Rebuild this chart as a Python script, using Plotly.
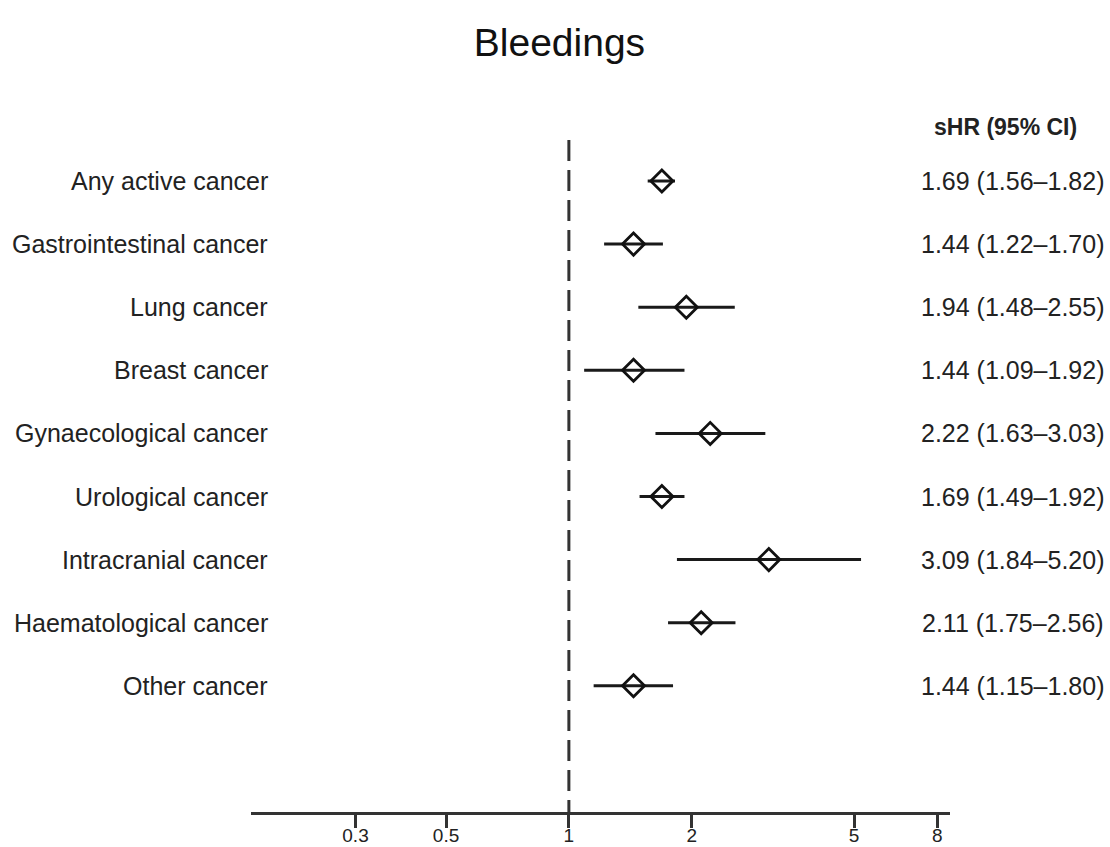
import plotly.graph_objects as go
import numpy as np

categories = ["Any active cancer", "Gastrointestinal cancer", "Lung cancer", "Breast cancer",
              "Gynaecological cancer", "Urological cancer", "Intracranial cancer",
              "Haematological cancer", "Other cancer"]
shr = [1.69, 1.44, 1.94, 1.44, 2.22, 1.69, 3.09, 2.11, 1.44]
ci_low = [1.56, 1.22, 1.48, 1.09, 1.63, 1.49, 1.84, 1.75, 1.15]
ci_high = [1.82, 1.70, 2.55, 1.92, 3.03, 1.92, 5.20, 2.56, 1.80]
tick_vals = [0.3, 0.5, 1, 2, 5, 8]
tick_text = ["0.3", "0.5", "1", "2", "5", "8"]

rows = list(range(len(categories)))
shr_a = np.array(shr)
FONT = "Liberation Sans, Arial, sans-serif"
TXT = "#222222"

fig = go.Figure()
fig.add_trace(go.Scatter(
    x=shr, y=rows, mode="markers",
    marker=dict(symbol="diamond-open", size=17, color="#111111",
                line=dict(width=2.8, color="#111111")),
    error_x=dict(type="data", symmetric=False,
                 array=list(np.array(ci_high) - shr_a),
                 arrayminus=list(shr_a - np.array(ci_low)),
                 width=0, thickness=3, color="#1a1a1a"),
    showlegend=False, hoverinfo="skip", cliponaxis=False,
))

annotations = []
for i, c in enumerate(categories):
    annotations.append(dict(x=0.0272, xref="paper", y=i, yref="y", text=c,
                            xanchor="right", yanchor="middle", showarrow=False,
                            font=dict(family=FONT, size=25, color=TXT)))
    annotations.append(dict(x=1.2232, xref="paper", y=i, yref="y",
                            text=f"{shr[i]:.2f} ({ci_low[i]:.2f}\u2013{ci_high[i]:.2f})",
                            xanchor="right", yanchor="middle", showarrow=False,
                            font=dict(family=FONT, size=25, color=TXT)))
annotations.append(dict(x=1.080, xref="paper", y=1 + 13 / 672, yref="paper",
                        text="<b>sHR (95% CI)</b>",
                        xanchor="center", yanchor="middle", showarrow=False,
                        font=dict(family=FONT, size=23, color=TXT)))

fig.add_shape(type="line", xref="x", yref="paper", x0=1, x1=1, y0=1, y1=0,
              line=dict(color="#333333", width=3, dash="21px,9px"))

fig.update_layout(
    width=1110, height=847,
    margin=dict(l=251, r=160, t=140, b=35, autoexpand=False),
    paper_bgcolor="white", plot_bgcolor="white",
    title=dict(text="Bleedings", x=0.504, xref="container", xanchor="center",
               y=1 - 42 / 847, yref="container", yanchor="middle",
               font=dict(family=FONT, size=39, color="#111111")),
    xaxis=dict(type="log", range=[-0.779, 0.934], showgrid=False, zeroline=False,
               showline=True, linewidth=3, linecolor="#333333",
               ticks="outside", ticklen=13, tickwidth=2.5, tickcolor="#333333",
               ticklabelstandoff=-9,
               tickvals=tick_vals, ticktext=tick_text, automargin=False,
               tickfont=dict(family=FONT, size=19, color=TXT)),
    yaxis=dict(range=[10.0, -0.65], visible=False, showgrid=False, zeroline=False),
    annotations=annotations,
)

fig.write_html("out.html", config={"displayModeBar": False})

with open("out.html", "r", encoding="utf-8") as f:
    html = f.read()
html = html.replace("<head>", "<head><style>html,body{margin:0;padding:0;overflow:hidden;}</style>", 1)
with open("out.html", "w", encoding="utf-8") as f:
    f.write(html)
